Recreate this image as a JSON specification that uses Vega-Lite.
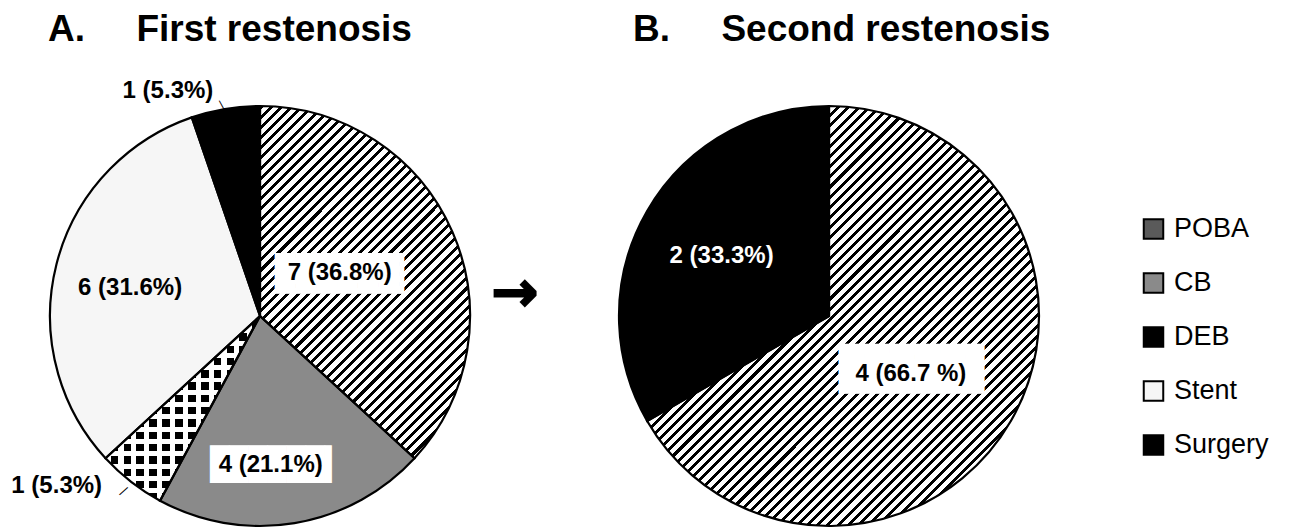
{
"$schema": "https://vega.github.io/schema/vega-lite/v6.json",
"background": "white",
"padding": {"left": 11, "top": 10, "right": 0, "bottom": 0},
"spacing": 0,
"config": {
  "view": {"stroke": null},
  "title": {"anchor": "start", "font": "Liberation Sans", "fontSize": 37, "fontWeight": "bold", "color": "#000", "baseline": "alphabetic", "frame": "group", "offset": 53},
  "text": {"font": "Liberation Sans"}
},
"resolve": {"scale": {"theta": "independent"}},
"hconcat": [
{
  "width": 424, "height": 420,
  "title": {"text": "A.\u00a0\u00a0\u00a0\u00a0\u00a0First restenosis", "offset": 30.5},
  "data": {"values": [
    {"type": "POBA", "n": 7, "k": 1, "label": "7 (36.8%)"},
    {"type": "CB", "n": 4, "k": 2, "label": "4 (21.1%)"},
    {"type": "DEB", "n": 1, "k": 3, "label": "1 (5.3%)"},
    {"type": "Stent", "n": 6, "k": 4, "label": "6 (31.6%)"},
    {"type": "Surgery", "n": 1, "k": 5, "label": "1 (5.3%)"}
  ]},
  "encoding": {
    "theta": {"field": "n", "type": "quantitative", "stack": true},
    "order": {"field": "k", "type": "quantitative"},
    "detail": {"field": "type", "type": "nominal"}
  },
  "layer": [
    {"mark": {"type": "arc", "outerRadius": 210, "stroke": null},
     "encoding": {"fill": {"field": "type", "type": "nominal",
        "scale": {"domain": ["POBA", "CB", "DEB", "Stent", "Surgery"], "range": ["#5a5a5a", "#8a8a8a", "#000000", "#f6f6f6", "#000000"]},
        "legend": {"title": null, "orient": "none", "legendX": 1092, "legendY": 109.5, "symbolType": "square", "symbolSize": 380, "symbolStrokeColor": "#000", "symbolStrokeWidth": 2, "labelFont": "Liberation Sans", "labelFontSize": 27, "labelColor": "#000", "labelOffset": 7, "rowPadding": 25, "padding": 0},
        "condition": {"test": "datum.type==='POBA'", "value": {"gradient": "linear", "x1": 0, "y1": 0, "x2": 0.6359, "y2": 1.0664, "stops": [
{"offset":0,"color":"#000"},{"offset":0.008,"color":"#000"},{"offset":0.008,"color":"#fff"},{"offset":0.02,"color":"#fff"},
{"offset":0.02,"color":"#000"},{"offset":0.028,"color":"#000"},{"offset":0.028,"color":"#fff"},{"offset":0.04,"color":"#fff"},
{"offset":0.04,"color":"#000"},{"offset":0.048,"color":"#000"},{"offset":0.048,"color":"#fff"},{"offset":0.06,"color":"#fff"},
{"offset":0.06,"color":"#000"},{"offset":0.068,"color":"#000"},{"offset":0.068,"color":"#fff"},{"offset":0.08,"color":"#fff"},
{"offset":0.08,"color":"#000"},{"offset":0.088,"color":"#000"},{"offset":0.088,"color":"#fff"},{"offset":0.1,"color":"#fff"},
{"offset":0.1,"color":"#000"},{"offset":0.108,"color":"#000"},{"offset":0.108,"color":"#fff"},{"offset":0.12,"color":"#fff"},
{"offset":0.12,"color":"#000"},{"offset":0.128,"color":"#000"},{"offset":0.128,"color":"#fff"},{"offset":0.14,"color":"#fff"},
{"offset":0.14,"color":"#000"},{"offset":0.148,"color":"#000"},{"offset":0.148,"color":"#fff"},{"offset":0.16,"color":"#fff"},
{"offset":0.16,"color":"#000"},{"offset":0.168,"color":"#000"},{"offset":0.168,"color":"#fff"},{"offset":0.18,"color":"#fff"},
{"offset":0.18,"color":"#000"},{"offset":0.188,"color":"#000"},{"offset":0.188,"color":"#fff"},{"offset":0.2,"color":"#fff"},
{"offset":0.2,"color":"#000"},{"offset":0.208,"color":"#000"},{"offset":0.208,"color":"#fff"},{"offset":0.22,"color":"#fff"},
{"offset":0.22,"color":"#000"},{"offset":0.228,"color":"#000"},{"offset":0.228,"color":"#fff"},{"offset":0.24,"color":"#fff"},
{"offset":0.24,"color":"#000"},{"offset":0.248,"color":"#000"},{"offset":0.248,"color":"#fff"},{"offset":0.26,"color":"#fff"},
{"offset":0.26,"color":"#000"},{"offset":0.268,"color":"#000"},{"offset":0.268,"color":"#fff"},{"offset":0.28,"color":"#fff"},
{"offset":0.28,"color":"#000"},{"offset":0.288,"color":"#000"},{"offset":0.288,"color":"#fff"},{"offset":0.3,"color":"#fff"},
{"offset":0.3,"color":"#000"},{"offset":0.308,"color":"#000"},{"offset":0.308,"color":"#fff"},{"offset":0.32,"color":"#fff"},
{"offset":0.32,"color":"#000"},{"offset":0.328,"color":"#000"},{"offset":0.328,"color":"#fff"},{"offset":0.34,"color":"#fff"},
{"offset":0.34,"color":"#000"},{"offset":0.348,"color":"#000"},{"offset":0.348,"color":"#fff"},{"offset":0.36,"color":"#fff"},
{"offset":0.36,"color":"#000"},{"offset":0.368,"color":"#000"},{"offset":0.368,"color":"#fff"},{"offset":0.38,"color":"#fff"},
{"offset":0.38,"color":"#000"},{"offset":0.388,"color":"#000"},{"offset":0.388,"color":"#fff"},{"offset":0.4,"color":"#fff"},
{"offset":0.4,"color":"#000"},{"offset":0.408,"color":"#000"},{"offset":0.408,"color":"#fff"},{"offset":0.42,"color":"#fff"},
{"offset":0.42,"color":"#000"},{"offset":0.428,"color":"#000"},{"offset":0.428,"color":"#fff"},{"offset":0.44,"color":"#fff"},
{"offset":0.44,"color":"#000"},{"offset":0.448,"color":"#000"},{"offset":0.448,"color":"#fff"},{"offset":0.46,"color":"#fff"},
{"offset":0.46,"color":"#000"},{"offset":0.468,"color":"#000"},{"offset":0.468,"color":"#fff"},{"offset":0.48,"color":"#fff"},
{"offset":0.48,"color":"#000"},{"offset":0.488,"color":"#000"},{"offset":0.488,"color":"#fff"},{"offset":0.5,"color":"#fff"},
{"offset":0.5,"color":"#000"},{"offset":0.508,"color":"#000"},{"offset":0.508,"color":"#fff"},{"offset":0.52,"color":"#fff"},
{"offset":0.52,"color":"#000"},{"offset":0.528,"color":"#000"},{"offset":0.528,"color":"#fff"},{"offset":0.54,"color":"#fff"},
{"offset":0.54,"color":"#000"},{"offset":0.548,"color":"#000"},{"offset":0.548,"color":"#fff"},{"offset":0.56,"color":"#fff"},
{"offset":0.56,"color":"#000"},{"offset":0.568,"color":"#000"},{"offset":0.568,"color":"#fff"},{"offset":0.58,"color":"#fff"},
{"offset":0.58,"color":"#000"},{"offset":0.588,"color":"#000"},{"offset":0.588,"color":"#fff"},{"offset":0.6,"color":"#fff"},
{"offset":0.6,"color":"#000"},{"offset":0.608,"color":"#000"},{"offset":0.608,"color":"#fff"},{"offset":0.62,"color":"#fff"},
{"offset":0.62,"color":"#000"},{"offset":0.628,"color":"#000"},{"offset":0.628,"color":"#fff"},{"offset":0.64,"color":"#fff"},
{"offset":0.64,"color":"#000"},{"offset":0.648,"color":"#000"},{"offset":0.648,"color":"#fff"},{"offset":0.66,"color":"#fff"},
{"offset":0.66,"color":"#000"},{"offset":0.668,"color":"#000"},{"offset":0.668,"color":"#fff"},{"offset":0.68,"color":"#fff"},
{"offset":0.68,"color":"#000"},{"offset":0.688,"color":"#000"},{"offset":0.688,"color":"#fff"},{"offset":0.7,"color":"#fff"},
{"offset":0.7,"color":"#000"},{"offset":0.708,"color":"#000"},{"offset":0.708,"color":"#fff"},{"offset":0.72,"color":"#fff"},
{"offset":0.72,"color":"#000"},{"offset":0.728,"color":"#000"},{"offset":0.728,"color":"#fff"},{"offset":0.74,"color":"#fff"},
{"offset":0.74,"color":"#000"},{"offset":0.748,"color":"#000"},{"offset":0.748,"color":"#fff"},{"offset":0.76,"color":"#fff"},
{"offset":0.76,"color":"#000"},{"offset":0.768,"color":"#000"},{"offset":0.768,"color":"#fff"},{"offset":0.78,"color":"#fff"},
{"offset":0.78,"color":"#000"},{"offset":0.788,"color":"#000"},{"offset":0.788,"color":"#fff"},{"offset":0.8,"color":"#fff"},
{"offset":0.8,"color":"#000"},{"offset":0.808,"color":"#000"},{"offset":0.808,"color":"#fff"},{"offset":0.82,"color":"#fff"},
{"offset":0.82,"color":"#000"},{"offset":0.828,"color":"#000"},{"offset":0.828,"color":"#fff"},{"offset":0.84,"color":"#fff"},
{"offset":0.84,"color":"#000"},{"offset":0.848,"color":"#000"},{"offset":0.848,"color":"#fff"},{"offset":0.86,"color":"#fff"},
{"offset":0.86,"color":"#000"},{"offset":0.868,"color":"#000"},{"offset":0.868,"color":"#fff"},{"offset":0.88,"color":"#fff"},
{"offset":0.88,"color":"#000"},{"offset":0.888,"color":"#000"},{"offset":0.888,"color":"#fff"},{"offset":0.9,"color":"#fff"},
{"offset":0.9,"color":"#000"},{"offset":0.908,"color":"#000"},{"offset":0.908,"color":"#fff"},{"offset":0.92,"color":"#fff"},
{"offset":0.92,"color":"#000"},{"offset":0.928,"color":"#000"},{"offset":0.928,"color":"#fff"},{"offset":0.94,"color":"#fff"},
{"offset":0.94,"color":"#000"},{"offset":0.948,"color":"#000"},{"offset":0.948,"color":"#fff"},{"offset":0.96,"color":"#fff"},
{"offset":0.96,"color":"#000"},{"offset":0.968,"color":"#000"},{"offset":0.968,"color":"#fff"},{"offset":0.98,"color":"#fff"},
{"offset":0.98,"color":"#000"},{"offset":0.988,"color":"#000"},{"offset":0.988,"color":"#fff"},{"offset":1,"color":"#fff"}
        ]}}}}},
    {"mark": {"type": "arc", "outerRadius": 210, "stroke": null},
     "encoding": {"fill": {"condition": {"test": "datum.type==='DEB'", "value": {"gradient": "linear", "x1": 0, "y1": 0, "x2": 0, "y2": 1, "stops": [
{"offset":0,"color":"#fff"},{"offset":0.0267,"color":"#fff"},{"offset":0.0267,"color":"rgba(255,255,255,0)"},{"offset":0.0667,"color":"rgba(255,255,255,0)"},
{"offset":0.0667,"color":"#fff"},{"offset":0.0933,"color":"#fff"},{"offset":0.0933,"color":"rgba(255,255,255,0)"},{"offset":0.1333,"color":"rgba(255,255,255,0)"},
{"offset":0.1333,"color":"#fff"},{"offset":0.16,"color":"#fff"},{"offset":0.16,"color":"rgba(255,255,255,0)"},{"offset":0.2,"color":"rgba(255,255,255,0)"},
{"offset":0.2,"color":"#fff"},{"offset":0.2267,"color":"#fff"},{"offset":0.2267,"color":"rgba(255,255,255,0)"},{"offset":0.2667,"color":"rgba(255,255,255,0)"},
{"offset":0.2667,"color":"#fff"},{"offset":0.2933,"color":"#fff"},{"offset":0.2933,"color":"rgba(255,255,255,0)"},{"offset":0.3333,"color":"rgba(255,255,255,0)"},
{"offset":0.3333,"color":"#fff"},{"offset":0.36,"color":"#fff"},{"offset":0.36,"color":"rgba(255,255,255,0)"},{"offset":0.4,"color":"rgba(255,255,255,0)"},
{"offset":0.4,"color":"#fff"},{"offset":0.4267,"color":"#fff"},{"offset":0.4267,"color":"rgba(255,255,255,0)"},{"offset":0.4667,"color":"rgba(255,255,255,0)"},
{"offset":0.4667,"color":"#fff"},{"offset":0.4933,"color":"#fff"},{"offset":0.4933,"color":"rgba(255,255,255,0)"},{"offset":0.5333,"color":"rgba(255,255,255,0)"},
{"offset":0.5333,"color":"#fff"},{"offset":0.56,"color":"#fff"},{"offset":0.56,"color":"rgba(255,255,255,0)"},{"offset":0.6,"color":"rgba(255,255,255,0)"},
{"offset":0.6,"color":"#fff"},{"offset":0.6267,"color":"#fff"},{"offset":0.6267,"color":"rgba(255,255,255,0)"},{"offset":0.6667,"color":"rgba(255,255,255,0)"},
{"offset":0.6667,"color":"#fff"},{"offset":0.6933,"color":"#fff"},{"offset":0.6933,"color":"rgba(255,255,255,0)"},{"offset":0.7333,"color":"rgba(255,255,255,0)"},
{"offset":0.7333,"color":"#fff"},{"offset":0.76,"color":"#fff"},{"offset":0.76,"color":"rgba(255,255,255,0)"},{"offset":0.8,"color":"rgba(255,255,255,0)"},
{"offset":0.8,"color":"#fff"},{"offset":0.8267,"color":"#fff"},{"offset":0.8267,"color":"rgba(255,255,255,0)"},{"offset":0.8667,"color":"rgba(255,255,255,0)"},
{"offset":0.8667,"color":"#fff"},{"offset":0.8933,"color":"#fff"},{"offset":0.8933,"color":"rgba(255,255,255,0)"},{"offset":0.9333,"color":"rgba(255,255,255,0)"},
{"offset":0.9333,"color":"#fff"},{"offset":0.96,"color":"#fff"},{"offset":0.96,"color":"rgba(255,255,255,0)"},{"offset":1,"color":"rgba(255,255,255,0)"}
        ]}}, "value": "transparent"}}},
    {"mark": {"type": "arc", "outerRadius": 210, "stroke": null},
     "encoding": {"fill": {"condition": {"test": "datum.type==='DEB'", "value": {"gradient": "linear", "x1": 0, "y1": 0, "x2": 1, "y2": 0, "stops": [
{"offset":0,"color":"#fff"},{"offset":0.0333,"color":"#fff"},{"offset":0.0333,"color":"rgba(255,255,255,0)"},{"offset":0.0833,"color":"rgba(255,255,255,0)"},
{"offset":0.0833,"color":"#fff"},{"offset":0.1167,"color":"#fff"},{"offset":0.1167,"color":"rgba(255,255,255,0)"},{"offset":0.1667,"color":"rgba(255,255,255,0)"},
{"offset":0.1667,"color":"#fff"},{"offset":0.2,"color":"#fff"},{"offset":0.2,"color":"rgba(255,255,255,0)"},{"offset":0.25,"color":"rgba(255,255,255,0)"},
{"offset":0.25,"color":"#fff"},{"offset":0.2833,"color":"#fff"},{"offset":0.2833,"color":"rgba(255,255,255,0)"},{"offset":0.3333,"color":"rgba(255,255,255,0)"},
{"offset":0.3333,"color":"#fff"},{"offset":0.3667,"color":"#fff"},{"offset":0.3667,"color":"rgba(255,255,255,0)"},{"offset":0.4167,"color":"rgba(255,255,255,0)"},
{"offset":0.4167,"color":"#fff"},{"offset":0.45,"color":"#fff"},{"offset":0.45,"color":"rgba(255,255,255,0)"},{"offset":0.5,"color":"rgba(255,255,255,0)"},
{"offset":0.5,"color":"#fff"},{"offset":0.5333,"color":"#fff"},{"offset":0.5333,"color":"rgba(255,255,255,0)"},{"offset":0.5833,"color":"rgba(255,255,255,0)"},
{"offset":0.5833,"color":"#fff"},{"offset":0.6167,"color":"#fff"},{"offset":0.6167,"color":"rgba(255,255,255,0)"},{"offset":0.6667,"color":"rgba(255,255,255,0)"},
{"offset":0.6667,"color":"#fff"},{"offset":0.7,"color":"#fff"},{"offset":0.7,"color":"rgba(255,255,255,0)"},{"offset":0.75,"color":"rgba(255,255,255,0)"},
{"offset":0.75,"color":"#fff"},{"offset":0.7833,"color":"#fff"},{"offset":0.7833,"color":"rgba(255,255,255,0)"},{"offset":0.8333,"color":"rgba(255,255,255,0)"},
{"offset":0.8333,"color":"#fff"},{"offset":0.8667,"color":"#fff"},{"offset":0.8667,"color":"rgba(255,255,255,0)"},{"offset":0.9167,"color":"rgba(255,255,255,0)"},
{"offset":0.9167,"color":"#fff"},{"offset":0.95,"color":"#fff"},{"offset":0.95,"color":"rgba(255,255,255,0)"},{"offset":1,"color":"rgba(255,255,255,0)"}
        ]}}, "value": "transparent"}}},
    {"mark": {"type": "arc", "outerRadius": 210, "fill": "transparent", "stroke": "#000", "strokeWidth": 2.2}, "encoding": {}},
    {"mark": {"type": "text", "radius": 87, "align": "left", "baseline": "middle", "font": "DejaVu Sans Mono", "fontSize": 34.4, "dx": -64.7, "dy": -6, "fill": "#fff"},
     "encoding": {"text": {"condition": {"test": "datum.type==='POBA'", "value": "██████▎"}, "value": ""}}},
    {"mark": {"type": "text", "radius": 150, "align": "left", "baseline": "middle", "font": "DejaVu Sans Mono", "fontSize": 31.8, "dx": -74.8, "dy": 1, "fill": "#fff"},
     "encoding": {"text": {"condition": {"test": "datum.type==='CB'", "value": "██████▍"}, "value": ""}}},
    {"mark": {"type": "text", "radius": 87, "align": "center", "baseline": "middle", "fontSize": 24, "fontWeight": "bold", "dy": -8, "fill": "#000"},
     "encoding": {"text": {"condition": {"test": "datum.type==='POBA'", "field": "label"}, "value": ""}}},
    {"mark": {"type": "text", "radius": 150, "align": "center", "baseline": "middle", "fontSize": 24, "fontWeight": "bold", "dx": -14, "dy": 1, "fill": "#000"},
     "encoding": {"text": {"condition": {"test": "datum.type==='CB'", "field": "label"}, "value": ""}}},
    {"mark": {"type": "text", "radius": 134, "align": "center", "baseline": "middle", "fontSize": 24, "fontWeight": "bold", "dy": 5, "fill": "#000"},
     "encoding": {"text": {"condition": {"test": "datum.type==='Stent'", "field": "label"}, "value": ""}}},
    {"mark": {"type": "text", "radius": 229, "align": "right", "baseline": "middle", "fontSize": 24, "fontWeight": "bold", "dx": -9, "dy": 1, "fill": "#000"},
     "encoding": {"text": {"condition": {"test": "datum.type==='Surgery'", "field": "label"}, "value": ""}}},
    {"mark": {"type": "text", "radius": 214, "align": "right", "baseline": "middle", "fontSize": 24, "fontWeight": "bold", "dx": -26.5, "dy": 1, "fill": "#000"},
     "encoding": {"text": {"condition": {"test": "datum.type==='DEB'", "field": "label"}, "value": ""}}},
    {"mark": {"type": "text", "radius": 216, "align": "center", "baseline": "middle", "fontSize": 12, "angle": -28.6, "dx": -3.5, "fill": "#000"},
     "encoding": {"text": {"condition": {"test": "datum.type==='Surgery'", "value": "|"}, "value": ""}}},
    {"mark": {"type": "text", "radius": 221, "align": "center", "baseline": "middle", "fontSize": 12, "angle": 48, "fill": "#000"},
     "encoding": {"text": {"condition": {"test": "datum.type==='DEB'", "value": "|"}, "value": ""}}}
  ]
},
{
  "width": 139, "height": 420,
  "title": {"text": "\u00a0"},
  "data": {"values": [{"a": 1}]},
  "mark": {"type": "text", "text": "→", "font": "DejaVu Sans", "fontWeight": "bold", "fontSize": 56, "dx": -29.5, "dy": -22, "fill": "#000", "stroke": "#000", "strokeWidth": 2}
},
{
  "width": 424, "height": 420,
  "title": {"text": "B.\u00a0\u00a0\u00a0\u00a0\u00a0Second restenosis", "dx": 16},
  "data": {"values": [
    {"type": "POBA", "n": 4, "k": 1, "label": "4 (66.7 %)"},
    {"type": "Surgery", "n": 2, "k": 5, "label": "2 (33.3%)"}
  ]},
  "encoding": {
    "theta": {"field": "n", "type": "quantitative", "stack": true},
    "order": {"field": "k", "type": "quantitative"},
    "detail": {"field": "type", "type": "nominal"}
  },
  "layer": [
    {"mark": {"type": "arc", "outerRadius": 210, "stroke": null},
     "encoding": {"fill": {"field": "type", "type": "nominal",
        "scale": {"domain": ["POBA", "CB", "DEB", "Stent", "Surgery"], "range": ["#5a5a5a", "#8a8a8a", "#000000", "#f6f6f6", "#000000"]},
        "legend": {"title": null, "orient": "none", "legendX": 1092, "legendY": 109.5, "symbolType": "square", "symbolSize": 380, "symbolStrokeColor": "#000", "symbolStrokeWidth": 2, "labelFont": "Liberation Sans", "labelFontSize": 27, "labelColor": "#000", "labelOffset": 7, "rowPadding": 25, "padding": 0},
        "condition": {"test": "datum.type==='POBA'", "value": {"gradient": "linear", "x1": 0.2301, "y1": 0.2147, "x2": 0.8347, "y2": 0.8627, "stops": [
{"offset":0,"color":"#000"},{"offset":0.008,"color":"#000"},{"offset":0.008,"color":"#fff"},{"offset":0.02,"color":"#fff"},
{"offset":0.02,"color":"#000"},{"offset":0.028,"color":"#000"},{"offset":0.028,"color":"#fff"},{"offset":0.04,"color":"#fff"},
{"offset":0.04,"color":"#000"},{"offset":0.048,"color":"#000"},{"offset":0.048,"color":"#fff"},{"offset":0.06,"color":"#fff"},
{"offset":0.06,"color":"#000"},{"offset":0.068,"color":"#000"},{"offset":0.068,"color":"#fff"},{"offset":0.08,"color":"#fff"},
{"offset":0.08,"color":"#000"},{"offset":0.088,"color":"#000"},{"offset":0.088,"color":"#fff"},{"offset":0.1,"color":"#fff"},
{"offset":0.1,"color":"#000"},{"offset":0.108,"color":"#000"},{"offset":0.108,"color":"#fff"},{"offset":0.12,"color":"#fff"},
{"offset":0.12,"color":"#000"},{"offset":0.128,"color":"#000"},{"offset":0.128,"color":"#fff"},{"offset":0.14,"color":"#fff"},
{"offset":0.14,"color":"#000"},{"offset":0.148,"color":"#000"},{"offset":0.148,"color":"#fff"},{"offset":0.16,"color":"#fff"},
{"offset":0.16,"color":"#000"},{"offset":0.168,"color":"#000"},{"offset":0.168,"color":"#fff"},{"offset":0.18,"color":"#fff"},
{"offset":0.18,"color":"#000"},{"offset":0.188,"color":"#000"},{"offset":0.188,"color":"#fff"},{"offset":0.2,"color":"#fff"},
{"offset":0.2,"color":"#000"},{"offset":0.208,"color":"#000"},{"offset":0.208,"color":"#fff"},{"offset":0.22,"color":"#fff"},
{"offset":0.22,"color":"#000"},{"offset":0.228,"color":"#000"},{"offset":0.228,"color":"#fff"},{"offset":0.24,"color":"#fff"},
{"offset":0.24,"color":"#000"},{"offset":0.248,"color":"#000"},{"offset":0.248,"color":"#fff"},{"offset":0.26,"color":"#fff"},
{"offset":0.26,"color":"#000"},{"offset":0.268,"color":"#000"},{"offset":0.268,"color":"#fff"},{"offset":0.28,"color":"#fff"},
{"offset":0.28,"color":"#000"},{"offset":0.288,"color":"#000"},{"offset":0.288,"color":"#fff"},{"offset":0.3,"color":"#fff"},
{"offset":0.3,"color":"#000"},{"offset":0.308,"color":"#000"},{"offset":0.308,"color":"#fff"},{"offset":0.32,"color":"#fff"},
{"offset":0.32,"color":"#000"},{"offset":0.328,"color":"#000"},{"offset":0.328,"color":"#fff"},{"offset":0.34,"color":"#fff"},
{"offset":0.34,"color":"#000"},{"offset":0.348,"color":"#000"},{"offset":0.348,"color":"#fff"},{"offset":0.36,"color":"#fff"},
{"offset":0.36,"color":"#000"},{"offset":0.368,"color":"#000"},{"offset":0.368,"color":"#fff"},{"offset":0.38,"color":"#fff"},
{"offset":0.38,"color":"#000"},{"offset":0.388,"color":"#000"},{"offset":0.388,"color":"#fff"},{"offset":0.4,"color":"#fff"},
{"offset":0.4,"color":"#000"},{"offset":0.408,"color":"#000"},{"offset":0.408,"color":"#fff"},{"offset":0.42,"color":"#fff"},
{"offset":0.42,"color":"#000"},{"offset":0.428,"color":"#000"},{"offset":0.428,"color":"#fff"},{"offset":0.44,"color":"#fff"},
{"offset":0.44,"color":"#000"},{"offset":0.448,"color":"#000"},{"offset":0.448,"color":"#fff"},{"offset":0.46,"color":"#fff"},
{"offset":0.46,"color":"#000"},{"offset":0.468,"color":"#000"},{"offset":0.468,"color":"#fff"},{"offset":0.48,"color":"#fff"},
{"offset":0.48,"color":"#000"},{"offset":0.488,"color":"#000"},{"offset":0.488,"color":"#fff"},{"offset":0.5,"color":"#fff"},
{"offset":0.5,"color":"#000"},{"offset":0.508,"color":"#000"},{"offset":0.508,"color":"#fff"},{"offset":0.52,"color":"#fff"},
{"offset":0.52,"color":"#000"},{"offset":0.528,"color":"#000"},{"offset":0.528,"color":"#fff"},{"offset":0.54,"color":"#fff"},
{"offset":0.54,"color":"#000"},{"offset":0.548,"color":"#000"},{"offset":0.548,"color":"#fff"},{"offset":0.56,"color":"#fff"},
{"offset":0.56,"color":"#000"},{"offset":0.568,"color":"#000"},{"offset":0.568,"color":"#fff"},{"offset":0.58,"color":"#fff"},
{"offset":0.58,"color":"#000"},{"offset":0.588,"color":"#000"},{"offset":0.588,"color":"#fff"},{"offset":0.6,"color":"#fff"},
{"offset":0.6,"color":"#000"},{"offset":0.608,"color":"#000"},{"offset":0.608,"color":"#fff"},{"offset":0.62,"color":"#fff"},
{"offset":0.62,"color":"#000"},{"offset":0.628,"color":"#000"},{"offset":0.628,"color":"#fff"},{"offset":0.64,"color":"#fff"},
{"offset":0.64,"color":"#000"},{"offset":0.648,"color":"#000"},{"offset":0.648,"color":"#fff"},{"offset":0.66,"color":"#fff"},
{"offset":0.66,"color":"#000"},{"offset":0.668,"color":"#000"},{"offset":0.668,"color":"#fff"},{"offset":0.68,"color":"#fff"},
{"offset":0.68,"color":"#000"},{"offset":0.688,"color":"#000"},{"offset":0.688,"color":"#fff"},{"offset":0.7,"color":"#fff"},
{"offset":0.7,"color":"#000"},{"offset":0.708,"color":"#000"},{"offset":0.708,"color":"#fff"},{"offset":0.72,"color":"#fff"},
{"offset":0.72,"color":"#000"},{"offset":0.728,"color":"#000"},{"offset":0.728,"color":"#fff"},{"offset":0.74,"color":"#fff"},
{"offset":0.74,"color":"#000"},{"offset":0.748,"color":"#000"},{"offset":0.748,"color":"#fff"},{"offset":0.76,"color":"#fff"},
{"offset":0.76,"color":"#000"},{"offset":0.768,"color":"#000"},{"offset":0.768,"color":"#fff"},{"offset":0.78,"color":"#fff"},
{"offset":0.78,"color":"#000"},{"offset":0.788,"color":"#000"},{"offset":0.788,"color":"#fff"},{"offset":0.8,"color":"#fff"},
{"offset":0.8,"color":"#000"},{"offset":0.808,"color":"#000"},{"offset":0.808,"color":"#fff"},{"offset":0.82,"color":"#fff"},
{"offset":0.82,"color":"#000"},{"offset":0.828,"color":"#000"},{"offset":0.828,"color":"#fff"},{"offset":0.84,"color":"#fff"},
{"offset":0.84,"color":"#000"},{"offset":0.848,"color":"#000"},{"offset":0.848,"color":"#fff"},{"offset":0.86,"color":"#fff"},
{"offset":0.86,"color":"#000"},{"offset":0.868,"color":"#000"},{"offset":0.868,"color":"#fff"},{"offset":0.88,"color":"#fff"},
{"offset":0.88,"color":"#000"},{"offset":0.888,"color":"#000"},{"offset":0.888,"color":"#fff"},{"offset":0.9,"color":"#fff"},
{"offset":0.9,"color":"#000"},{"offset":0.908,"color":"#000"},{"offset":0.908,"color":"#fff"},{"offset":0.92,"color":"#fff"},
{"offset":0.92,"color":"#000"},{"offset":0.928,"color":"#000"},{"offset":0.928,"color":"#fff"},{"offset":0.94,"color":"#fff"},
{"offset":0.94,"color":"#000"},{"offset":0.948,"color":"#000"},{"offset":0.948,"color":"#fff"},{"offset":0.96,"color":"#fff"},
{"offset":0.96,"color":"#000"},{"offset":0.968,"color":"#000"},{"offset":0.968,"color":"#fff"},{"offset":0.98,"color":"#fff"},
{"offset":0.98,"color":"#000"},{"offset":0.988,"color":"#000"},{"offset":0.988,"color":"#fff"},{"offset":1,"color":"#fff"}
        ]}}}}},
    {"mark": {"type": "arc", "outerRadius": 210, "fill": "transparent", "stroke": "#000", "strokeWidth": 2.2}, "encoding": {}},
    {"mark": {"type": "text", "radius": 98, "align": "left", "baseline": "middle", "font": "DejaVu Sans Mono", "fontSize": 42.1, "dx": -75.2, "dy": 5.4, "fill": "#fff"},
     "encoding": {"text": {"condition": {"test": "datum.type==='POBA'", "value": "█████▊"}, "value": ""}}},
    {"mark": {"type": "text", "radius": 98, "align": "center", "baseline": "middle", "fontSize": 24, "fontWeight": "bold", "dx": -3, "dy": 9, "fill": "#000"},
     "encoding": {"text": {"condition": {"test": "datum.type==='POBA'", "field": "label"}, "value": ""}}},
    {"mark": {"type": "text", "radius": 124, "align": "center", "baseline": "middle", "fontSize": 24, "fontWeight": "bold", "dy": 2, "fill": "#fff"},
     "encoding": {"text": {"condition": {"test": "datum.type==='Surgery'", "field": "label"}, "value": ""}}}
  ]
}
]
}
